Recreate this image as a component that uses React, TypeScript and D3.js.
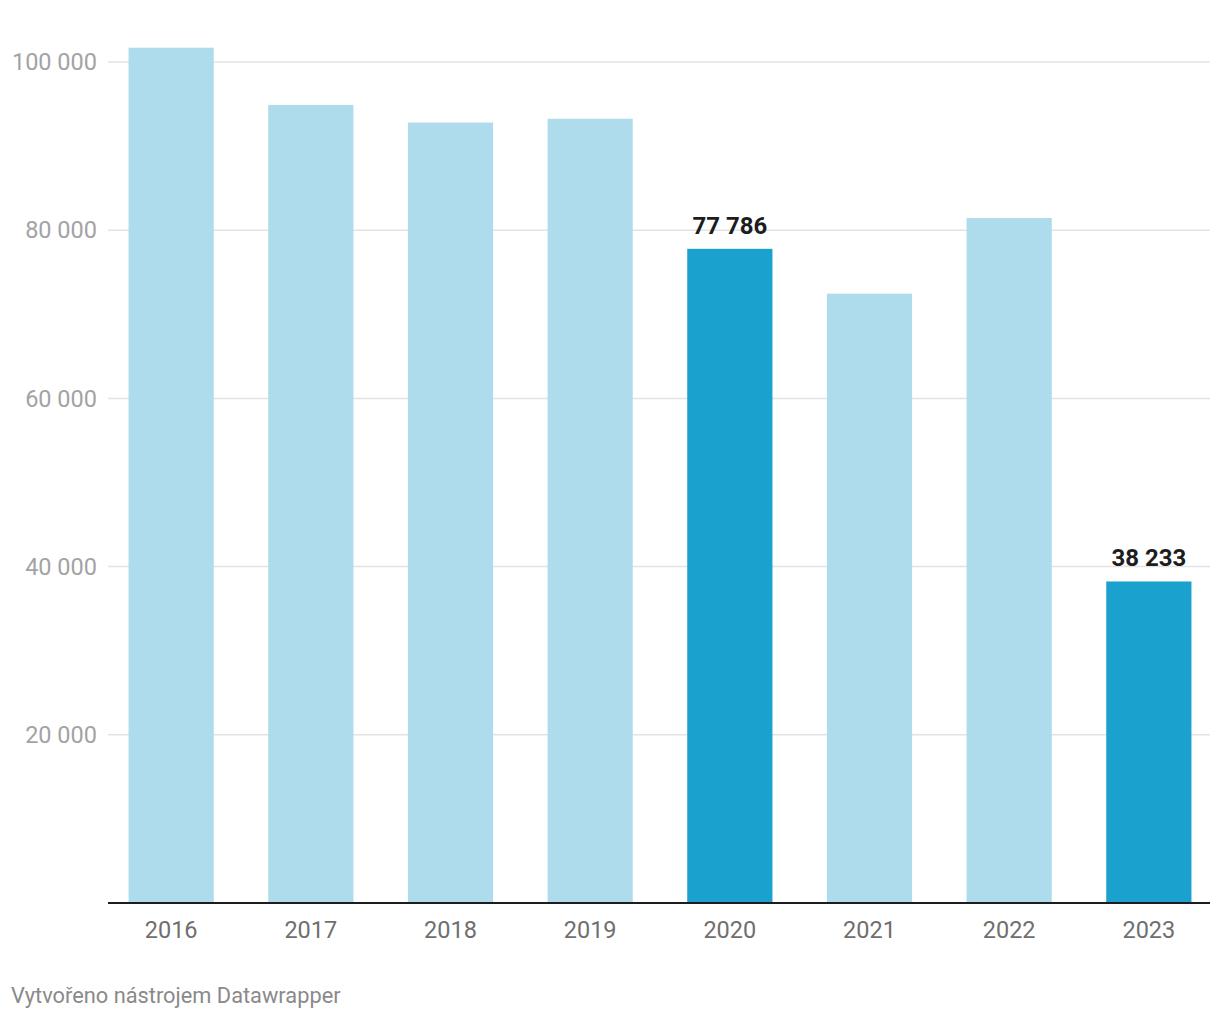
import { scaleBand, scaleLinear, format } from "d3";

const years = ["2016", "2017", "2018", "2019", "2020", "2021", "2022", "2023"];
const values = [101700, 94900, 92800, 93250, 77786, 72450, 81450, 38233];
const highlighted = ["2020", "2023"];
const yTicks = [20000, 40000, 60000, 80000, 100000];

const W = 1220;
const H = 1020;
const FONT = "Roboto, 'Noto Sans', sans-serif";

// thousands separated by a space, like the original
const fmt = (v: number) => format(",")(v).replace(/,/g, " ");

const App: React.FC = () => {
    const margin = { top: 62, right: 10, bottom: 117, left: 108 };

    const scaleX = scaleBand()
        .domain(years)
        .range([margin.left + 1, W - margin.right + 1])
        .paddingInner(0.39)
        .paddingOuter(0.14);

    const scaleY = scaleLinear()
        .domain([0, 100000])
        .range([H - margin.bottom, margin.top]);

    const baseY = scaleY(0);

    return (
        <div style={{ position: "absolute", left: 0, top: 0 }}>
            <svg width={W} height={H} style={{ display: "block", background: "#fff" }}>
                {/* grid + y labels */}
                {yTicks.map((t) => (
                    <g key={`tick-${t}`}>
                        <line x1={margin.left} x2={W - margin.right} y1={scaleY(t)} y2={scaleY(t)}
                            stroke="#e3e3e3" strokeWidth={1.5} />
                        <text x={97} y={scaleY(t)} dy="0.35em" textAnchor="end"
                            fontFamily={FONT} fontSize={23.5} fill="#a3a3a3">{fmt(t)}</text>
                    </g>
                ))}

                {/* bars */}
                {years.map((y, i) => {
                    const hl = highlighted.includes(y);
                    return (
                        <g key={`bar-${y}`}>
                            <rect x={scaleX(y)} y={scaleY(values[i])}
                                width={scaleX.bandwidth()} height={baseY - scaleY(values[i])}
                                fill={hl ? "#1ba1cd" : "#aedcec"} />
                            {hl && (
                                <text x={(scaleX(y) ?? 0) + scaleX.bandwidth() / 2} y={scaleY(values[i]) - 15}
                                    textAnchor="middle" fontFamily={FONT} fontSize={24} fontWeight={700}
                                    fill="#1d1d1d">{fmt(values[i])}</text>
                            )}
                        </g>
                    );
                })}

                {/* x axis */}
                <line x1={margin.left} x2={W - margin.right} y1={baseY} y2={baseY} stroke="#1d1d1d" strokeWidth={2} />
                {years.map((y) => (
                    <text key={`lab-${y}`} x={(scaleX(y) ?? 0) + scaleX.bandwidth() / 2} y={938}
                        textAnchor="middle" fontFamily={FONT} fontSize={23.5} fill="#6f6f6f">{y}</text>
                ))}

                <text x={11} y={1003} fontFamily={FONT} fontSize={21.8} fill="#8a8a8a">
                    Vytvořeno nástrojem Datawrapper
                </text>
            </svg>
        </div>
    );
}

export default App;
